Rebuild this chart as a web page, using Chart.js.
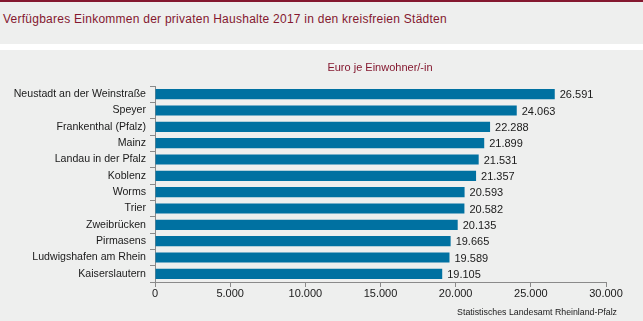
<!DOCTYPE html>
<html><head><meta charset="utf-8">
<script src="https://cdn.jsdelivr.net/npm/chart.js@4"></script>
<style>
html,body{margin:0;padding:0;background:#eeefee;width:643px;height:321px;overflow:hidden;font-family:"Liberation Sans",Arial,sans-serif;}
#top{position:absolute;left:0;top:0;width:643px;height:2px;background:#84182f;}
#title{position:absolute;left:3px;top:12px;font-size:12px;letter-spacing:0.25px;color:#84182f;white-space:nowrap;}
#sep{position:absolute;left:0;top:44px;width:643px;height:6px;background:#ffffff;}
#sub{position:absolute;left:380px;top:61px;transform:translateX(-50%);font-size:11px;color:#84182f;white-space:nowrap;}
#foot{position:absolute;right:26px;top:307px;font-size:8.8px;color:#1a1a1a;white-space:nowrap;}
#wrap{position:absolute;left:0;top:50px;width:643px;height:271px;}
</style></head><body>
<div id="top"></div>
<div id="title">Verfügbares Einkommen der privaten Haushalte 2017 in den kreisfreien Städten</div>
<div id="sep"></div>
<div id="wrap"><canvas id="c" width="643" height="271"></canvas></div>
<div id="sub">Euro je Einwohner/-in</div>
<div id="foot">Statistisches Landesamt Rheinland-Pfalz</div>
<script>
const categories = ["Neustadt an der Weinstraße","Speyer","Frankenthal (Pfalz)","Mainz","Landau in der Pfalz","Koblenz","Worms","Trier","Zweibrücken","Pirmasens","Ludwigshafen am Rhein","Kaiserslautern"];
const values = [26591,24063,22288,21899,21531,21357,20593,20582,20135,19665,19589,19105];
const xTicks = [0,5000,10000,15000,20000,25000,30000];

function fmt(v){ return String(Math.round(v)).replace(/\B(?=(\d{3})+(?!\d))/g, "."); }

const labelPlugin = {
  id:'vals',
  afterDatasetsDraw(chart){
    const ctx = chart.ctx;
    const meta = chart.getDatasetMeta(0);
    ctx.save();
    ctx.font = '11px "Liberation Sans", Arial, sans-serif';
    ctx.fillStyle = '#1a1a1a';
    ctx.textAlign = 'left';
    ctx.textBaseline = 'middle';
    meta.data.forEach((bar,i)=>{
      ctx.fillText(fmt(values[i]), bar.x + 5, bar.y + 1);
    });
    ctx.restore();
  }
};

new Chart(document.getElementById('c'), {
  type:'bar',
  data:{ labels:categories, datasets:[{ data:values, backgroundColor:'#0071a1', barPercentage:0.62, categoryPercentage:1 }] },
  options:{
    indexAxis:'y',
    responsive:false,
    animation:false,
    devicePixelRatio:1,
    layout:{ padding:{ top:36, right:37, bottom:22, left:0 } },
    plugins:{ legend:{display:false}, tooltip:{enabled:false}, title:{display:false} },
    scales:{
      x:{
        min:0, max:30000,
        afterBuildTicks(s){ s.ticks = xTicks.map(v=>({value:v})); },
        ticks:{ callback:(v)=>fmt(v), color:'#1a1a1a', font:{family:'"Liberation Sans", Arial, sans-serif', size:11}, padding:0, maxRotation:0 },
        grid:{ drawOnChartArea:false, drawTicks:true, tickLength:5, color:'#8a8a8a' },
        border:{ display:true, color:'#8a8a8a', width:1 },
        afterFit(s){ s.height = 17; }
      },
      y:{
        ticks:{ color:'#1a1a1a', font:{family:'"Liberation Sans", Arial, sans-serif', size:10.6}, padding:4 },
        grid:{ drawOnChartArea:false, drawTicks:true, tickLength:5, color:'#8a8a8a', offset:true },
        border:{ display:true, color:'#8a8a8a', width:1 },
        afterFit(s){ s.width = 155; }
      }
    }
  },
  plugins:[labelPlugin]
});
</script>
</body></html>
